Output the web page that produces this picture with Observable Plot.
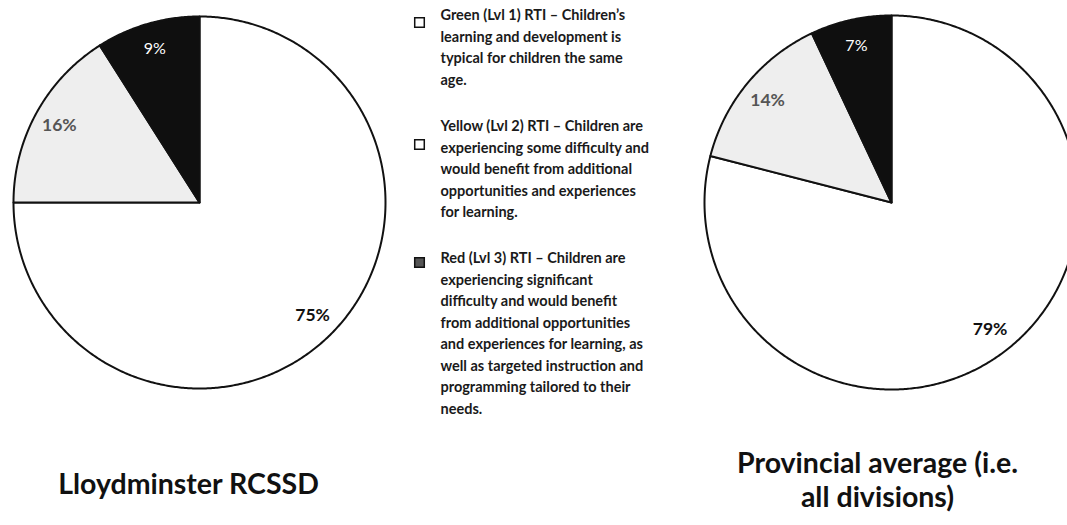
<!DOCTYPE html>
<html><head><meta charset="utf-8">
<script src="https://cdn.jsdelivr.net/npm/d3@7"></script>
<script src="https://cdn.jsdelivr.net/npm/@observablehq/plot@0.6"></script>
<style>body{margin:0;background:#fff;overflow:hidden}</style>
</head><body><div id="chart"></div>
<script>
// ---- data ----
const categories = ["Green (Lvl 1)", "Yellow (Lvl 2)", "Red (Lvl 3)"];
const lloydminsterShares = [75, 16, 9];
const provincialShares = [79, 14, 7];
const titleLloydminster = ["Lloydminster RCSSD"];
const titleProvincial = ["Provincial average (i.e.", "all divisions)"];
const legendGreen = ["Green (Lvl 1) RTI – Children’s", "learning and development is", "typical for children the same", "age."];
const legendYellow = ["Yellow (Lvl 2) RTI – Children are", "experiencing some difficulty and", "would benefit from additional", "opportunities and experiences", "for learning."];
const legendRed = ["Red (Lvl 3) RTI – Children are", "experiencing significant", "difficulty and would benefit", "from additional opportunities", "and experiences for learning, as", "well as targeted instruction and", "programming tailored to their", "needs."];

// ---- layout / style ----
const W = 1067, H = 525;
const pies = [
  {cx: 199, cy: 202, r: 186, shares: lloydminsterShares, title: titleLloydminster, tx: 188, ty: 484},
  {cx: 891, cy: 202, r: 187, shares: provincialShares, title: titleProvincial, tx: 877, ty: 463}
];
const sliceFill = ["#ffffff", "#eeeeee", "#0f0f0f"];
const labelFill = ["#111111", "#555555", "#ffffff"];
const labelWeight = ["bold", "bold", "normal"];
const labelSize = [17.5, 17.5, 16];
const legendFill = ["#ffffff", "#ffffff", "#555555"];
const legendBlocks = [
  {lines: legendGreen, y0: 15, sq: 22},
  {lines: legendYellow, y0: 126, sq: 144},
  {lines: legendRed, y0: 258, sq: 262}
];
const legendLH = 21.5, legendTextX = 440, legendSqX = 419;
const font = "Lato, 'Open Sans', sans-serif";

// ---- derived geometry from shares ----
const slicePts = [];
const labels = [];
pies.forEach((p, pi) => {
  const arcs = d3.pie().sort(null).value(d => d)(p.shares);
  arcs.forEach((a, i) => {
    const id = pi + "-" + i;
    slicePts.push({id, cat: i, x: p.cx, y: p.cy});
    const n = Math.max(2, Math.ceil((a.endAngle - a.startAngle) / (Math.PI / 360)));
    for (let k = 0; k <= n; k++) {
      const t = a.startAngle + (a.endAngle - a.startAngle) * k / n;
      slicePts.push({id, cat: i, x: p.cx + p.r * Math.sin(t), y: p.cy - p.r * Math.cos(t)});
    }
    slicePts.push({id, cat: i, x: p.cx, y: p.cy});
    const m = (a.startAngle + a.endAngle) / 2, lr = p.r * 0.86;
    labels.push({cat: i, text: p.shares[i] + "%", x: p.cx + lr * Math.sin(m), y: p.cy - lr * Math.cos(m)});
  });
});
const legendText = [], legendSq = [];
legendBlocks.forEach((b, i) => {
  b.lines.forEach((t, k) => legendText.push({text: t, x: legendTextX, y: b.y0 + k * legendLH}));
  legendSq.push({cat: i, x: legendSqX, y: b.sq});
});
const titles = [];
pies.forEach(p => p.title.forEach((t, k) => titles.push({text: t, x: p.tx, y: p.ty + k * 34})));

const marks = [];
categories.forEach((c, i) => {
  marks.push(Plot.line(slicePts.filter(d => d.cat === i), {x: "x", y: "y", z: "id", fill: sliceFill[i], stroke: "#111", strokeWidth: 2, strokeLinejoin: "round", curve: "linear"}));
});
categories.forEach((c, i) => {
  marks.push(Plot.text(labels.filter(d => d.cat === i), {x: "x", y: "y", text: "text", fill: labelFill[i], fontWeight: labelWeight[i], fontSize: labelSize[i], fontFamily: font}));
  marks.push(Plot.dot(legendSq.filter(d => d.cat === i), {x: "x", y: "y", symbol: "square", r: 5.4, fill: legendFill[i], stroke: "#111", strokeWidth: 1.5}));
});
marks.push(Plot.text(legendText, {x: "x", y: "y", text: "text", textAnchor: "start", fill: "#1a1a1a", fontWeight: "bold", fontSize: 14.5, fontFamily: font}));
marks.push(Plot.text(titles, {x: "x", y: "y", text: "text", fill: "#111", fontWeight: "bold", fontSize: 28.5, fontFamily: font}));

const chart = Plot.plot({
  width: W, height: H,
  margin: 0,
  x: {domain: [0, W], range: [0, W], axis: null},
  y: {domain: [0, H], range: [0, H], axis: null},
  style: {background: "#fff", overflow: "hidden"},
  marks
});
document.getElementById("chart").append(chart);
</script>
</body></html>
